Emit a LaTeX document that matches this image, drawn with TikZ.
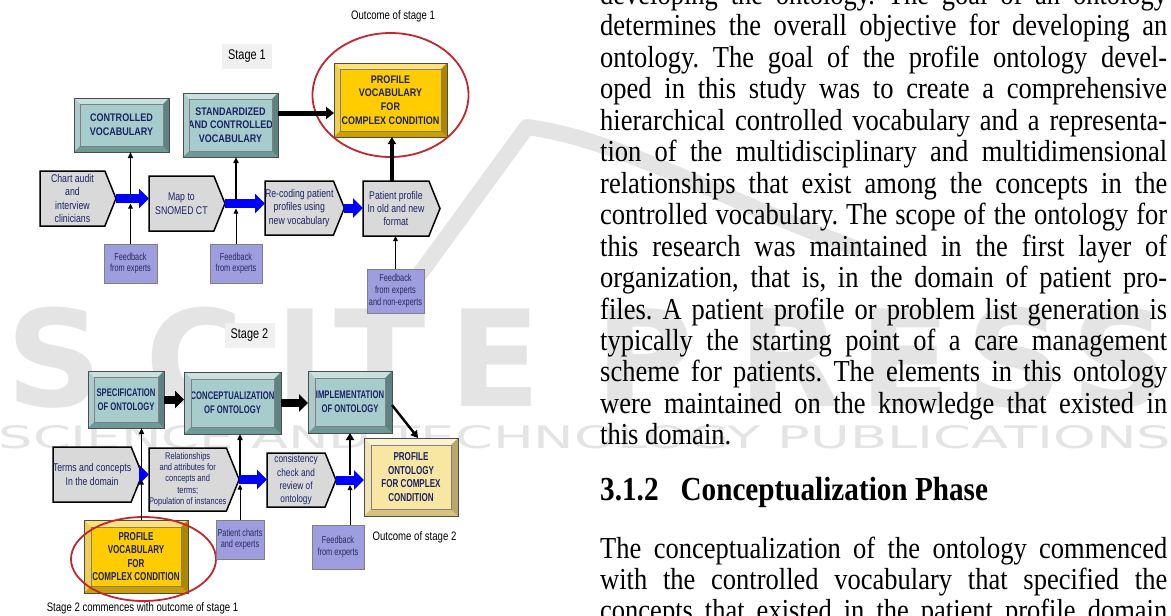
\documentclass[tikz,border=0pt]{standalone}
\usepackage{fontspec}
\setmainfont{Liberation Serif}
\newfontfamily\narrowsf[FakeStretch=0.78]{Liberation Sans}
\newfontfamily\thinsf[FakeStretch=0.72]{Liberation Sans}
\newfontfamily\labelsf[FakeStretch=0.82]{Liberation Sans}
\newfontfamily\tightsf[FakeStretch=0.70]{Liberation Sans}
\newfontfamily\markfont{DejaVu Sans}
\usetikzlibrary{shapes.symbols,shapes.geometric,arrows.meta}
\frenchspacing

\definecolor{tealface}{HTML}{A7CCCC}
\definecolor{teallight}{HTML}{C8E0E0}
\definecolor{tealdark}{HTML}{6E9999}
\definecolor{goldface}{HTML}{FFCC00}
\definecolor{goldlight}{HTML}{FFE17A}
\definecolor{golddark}{HTML}{CC9F00}
\definecolor{paleface}{HTML}{F8E7A2}
\definecolor{palelight}{HTML}{FBF2CF}
\definecolor{paledark}{HTML}{D8C37E}
\definecolor{stepgray}{HTML}{D9D9D9}
\definecolor{lavender}{HTML}{9D9DDF}
\definecolor{navytext}{HTML}{1B2366}
\definecolor{feedtext}{HTML}{2B2B5E}
\definecolor{ringred}{HTML}{C1272D}
\definecolor{flowblue}{HTML}{0000FF}
\definecolor{markgray}{HTML}{E4E4E4}

% bevelled edge round a box node: name, depth, light, dark
\newcommand{\bevel}[4]{%
  \fill[#3] (#1.north west) -- (#1.north east) -- ([shift={(-#2,#2)}]#1.north east) -- ([shift={(#2,#2)}]#1.north west) -- cycle;
  \fill[#3!70!#4] (#1.north west) -- ([shift={(#2,#2)}]#1.north west) -- ([shift={(#2,-#2)}]#1.south west) -- (#1.south west) -- cycle;
  \fill[#4] (#1.south west) -- (#1.south east) -- ([shift={(-#2,-#2)}]#1.south east) -- ([shift={(#2,-#2)}]#1.south west) -- cycle;
  \fill[#4!85!black] (#1.north east) -- (#1.south east) -- ([shift={(-#2,-#2)}]#1.south east) -- ([shift={(-#2,#2)}]#1.north east) -- cycle;
  \draw[black!50, line width=0.4pt] ([shift={(#2,#2)}]#1.north west) rectangle ([shift={(-#2,-#2)}]#1.south east);
  \draw[black!70, line width=0.8pt] (#1.north west) rectangle (#1.south east);
}

\begin{document}
\begin{tikzpicture}[x=1pt, y=-1pt,
  tealbox/.style={draw=black!70, line width=0.8pt, fill=tealface, inner sep=0pt, outer sep=0pt, text=navytext, align=center, font=\labelsf\bfseries\fontsize{11}{13.6}\selectfont},
  goldbox/.style={tealbox, fill=goldface},
  palebox/.style={tealbox, fill=paleface},
  stepbox/.style={signal, signal to=east, signal pointer angle=136, anchor=west, draw=black, line width=1.5pt, fill=stepgray, inner sep=0pt, outer sep=0pt, text=navytext, align=center, font=\narrowsf\fontsize{11.2}{13.4}\selectfont},
  feedbox/.style={draw=black!50, line width=0.6pt, fill=lavender, inner sep=0pt, outer sep=0pt, text=feedtext, align=center, font=\thinsf\fontsize{10.2}{11.7}\selectfont},
  stagetag/.style={fill=black!6, inner sep=0pt, minimum width=50, minimum height=25, font=\narrowsf\fontsize{14}{14}\selectfont},
  caption/.style={inner sep=0pt, font=\narrowsf\fontsize{12.3}{14}\selectfont},
  ring/.style={ellipse, draw=ringred, line width=1.8pt, inner sep=0pt},
  flow/.style={draw=flowblue, line width=9pt, -{Triangle[length=10pt,width=19pt,fill=flowblue]}},
  feed/.style={line width=0.9pt, -{Triangle[length=5pt,width=4.5pt]}},
  feedup/.style={line width=1.6pt, -{Triangle[length=6pt,width=5pt]}},
  riser/.style={line width=3.2pt, -{Triangle[length=7pt,width=8pt]}},
  push/.style={line width=5pt, -{Triangle[length=8pt,width=12pt]}},
  fatpush/.style={line width=8pt, -{Triangle[length=9pt,width=17pt]}},
  bodyline/.style={anchor=base west, inner sep=0pt, yscale=1.15, font=\fontsize{26.5}{31.45}\selectfont},
  markletter/.style={text=markgray, inner sep=0pt, font=\markfont\bfseries\fontsize{134}{134}\selectfont},
]
\path[use as bounding box, fill=white] (0,0) rectangle (1171,616);
\clip (0,0) rectangle (1171,616);

% watermark
\draw[markgray, line width=16pt, line join=round] (392,312) -- (527,127) .. controls (620,140) and (700,190) .. (860,250);
\foreach \ch/\cx in {S/55,C/195,I/300,T/380,E/495,P/645,R/790,E/905,S/1015,S/1120}
  \node[markletter] (wm\cx) at (\cx,358) {\ch};
\node[text=markgray, inner sep=0pt, xscale=1.75, font=\markfont\fontsize{31}{31}\selectfont] (wmsub) at (585,437) {SCIENCE AND TECHNOLOGY PUBLICATIONS};

% Stage 1
\node[stagetag] (tag1) at (247,56.5) {Stage 1};
\node[caption] (out1) at (393,16) {Outcome of stage 1};
\node[tealbox, minimum width=95, minimum height=54] (ctrl) at (121.5,125) {CONTROLLED\\VOCABULARY};
\node[tealbox, minimum width=95, minimum height=64] (std) at (230.5,125) {STANDARDIZED\\AND CONTROLLED\\VOCABULARY};
\node[goldbox, minimum width=113, minimum height=74] (pvoc) at (390.5,100) {PROFILE\\VOCABULARY\\FOR\\COMPLEX CONDITION};
\bevel{ctrl}{6}{teallight}{tealdark}
\bevel{std}{6}{teallight}{tealdark}
\bevel{pvoc}{6}{goldlight}{golddark}
\node[ring, minimum width=156, minimum height=124] (ring1) at (390.5,95) {};

\node[stepbox, minimum width=76, minimum height=55] (chart) at (40,198.5) {Chart audit\\and\\interview\\clinicians};
\node[stepbox, minimum width=76, minimum height=55] (map) at (149,203.5) {Map to\\SNOMED CT};
\node[stepbox, minimum width=77, minimum height=54] (recode) at (265,208) {Re-coding patient\\profiles using\\new vocabulary};
\node[stepbox, minimum width=77, minimum height=55] (pprof) at (363,208.5) {Patient profile\\In old and new\\format};

\node[feedbox, minimum width=53, minimum height=39] (fb1) at (130.5,263.5) {Feedback\\from experts};
\node[feedbox, minimum width=52, minimum height=39] (fb2) at (236,263.5) {Feedback\\from experts};
\node[feedbox, minimum width=57, minimum height=44] (fb3) at (395.5,291) {Feedback\\from experts\\and non-experts};

\draw[flow] (chart.east) -- (chart.east -| map.west);
\draw[flow] (map.east) -- (map.east -| recode.west);
\draw[flow] (recode.east) -- (recode.east -| pprof.west);
\draw[push] ([shift={(0,-12)}]std.east) -- ([shift={(0,-12)}]std.east -| pvoc.west);

\coordinate (j1) at (chart.east -| fb1.north);
\coordinate (j2) at (map.east -| fb2.north);
\draw[feed] (fb1.north) -- ([shift={(0,5)}]j1);
\draw[feedup] ([shift={(0,-5)}]j1) -- (j1 |- ctrl.south);
\draw[feed] (fb2.north) -- ([shift={(0,5)}]j2);
\draw[feedup] ([shift={(0,-5)}]j2) -- (j2 |- std.south);
\draw[riser] ([shift={(-4,0)}]pprof.north) -- ([shift={(-4,0)}]pprof.north |- pvoc.south);
\draw[feed] (fb3.north) -- (fb3.north |- pprof.south);

% Stage 2
\node[stagetag] (tag2) at (249.5,335.5) {Stage 2};
\node[tealbox, font=\tightsf\bfseries\fontsize{11}{13.6}\selectfont, minimum width=76, minimum height=57] (spec) at (126,399.5) {SPECIFICATION\\OF ONTOLOGY};
\node[tealbox, font=\tightsf\bfseries\fontsize{11}{13.6}\selectfont, minimum width=97, minimum height=62] (conc) at (232.5,403) {CONCEPTUALIZATION\\OF ONTOLOGY};
\node[tealbox, font=\tightsf\bfseries\fontsize{11}{13.6}\selectfont, minimum width=84, minimum height=62] (impl) at (350,402) {IMPLEMENTATION\\OF ONTOLOGY};
\node[palebox, font=\tightsf\bfseries\fontsize{11.5}{13.4}\selectfont, minimum width=94, minimum height=78] (ponto) at (411,477) {PROFILE\\ONTOLOGY\\FOR COMPLEX\\CONDITION};
\bevel{spec}{6}{teallight}{tealdark}
\bevel{conc}{7}{teallight}{tealdark}
\bevel{impl}{7}{teallight}{tealdark}
\bevel{ponto}{7}{palelight}{paledark}

\node[stepbox, minimum width=77, minimum height=55] (terms) at (53,474.5) {Terms and concepts\\In the domain};
\node[stepbox, font=\narrowsf\fontsize{9.6}{11.4}\selectfont, minimum width=88, minimum height=63] (rel) at (149,479.5) {Relationships\\and attributes for\\concepts and\\terms;\\Population of instances};
\node[stepbox, font=\narrowsf\fontsize{10.6}{13.2}\selectfont, minimum width=69, minimum height=54] (cons) at (267,480) {consistency\\check and\\review of\\ontology};

\node[goldbox, font=\tightsf\bfseries\fontsize{11.5}{13.3}\selectfont, minimum width=104, minimum height=73] (pvoc2) at (136,556.5) {PROFILE\\VOCABULARY\\FOR\\COMPLEX CONDITION};
\bevel{pvoc2}{7}{goldlight}{golddark}
\node[ring, minimum width=145, minimum height=84] (ring2) at (143.5,559) {};
\node[feedbox, minimum width=48, minimum height=39] (pc) at (240,539.5) {Patient charts\\and experts};
\node[feedbox, minimum width=52, minimum height=44] (fb4) at (338,547) {Feedback\\from experts};

\draw[fatpush] (spec.east) -- (spec.east -| conc.west);
\draw[fatpush] (conc.east) -- (conc.east -| impl.west);
\draw[riser, line width=2.4pt] ([shift={(0,3)}]impl.east) -- ([shift={(7,0)}]ponto.north);
\draw[flow] (terms.east) -- (terms.east -| rel.west);
\draw[flow] (rel.east) -- (rel.east -| cons.west);
\draw[flow] (cons.east) -- (cons.east -| ponto.west);

\coordinate (j3) at (141.5,474.5);
\coordinate (j4) at (rel.east -| pc.north);
\coordinate (j5) at (cons.east -| impl.south);
\draw[feed] (j3 |- pvoc2.north) -- ([shift={(0,5)}]j3);
\draw[feedup] ([shift={(0,-5)}]j3) -- (j3 |- spec.south);
\draw[feed] (pc.north) -- ([shift={(0,5)}]j4);
\draw[feedup] ([shift={(0,-5)}]j4) -- (j4 |- conc.south);
\draw[feed] (j5 |- fb4.north) -- ([shift={(0,5)}]j5);
\draw[riser, line width=2.6pt] ([shift={(0,-5)}]j5) -- (j5 |- impl.south);

\node[caption] (out2) at (414.5,537) {Outcome of stage 2};
\node[caption] (start2) at (142.5,608) {Stage 2 commences with outcome of stage 1};

% text column
\foreach \txt [count=\i] in {
  {developing the ontology. The goal of an ontology},
  {determines the overall objective for developing an},
  {ontology. The goal of the profile ontology devel-},
  {oped in this study was to create a comprehensive},
  {hierarchical controlled vocabulary and a representa-},
  {tion of the multidisciplinary and multidimensional},
  {relationships that exist among the concepts in the},
  {controlled vocabulary. The scope of the ontology for},
  {this research was maintained in the first layer of},
  {organization, that is, in the domain of patient pro-},
  {files. A patient profile or problem list generation is},
  {typically the starting point of a care management},
  {scheme for patients. The elements in this ontology},
  {were maintained on the knowledge that existed in}}
  \node[bodyline] (body\i) at (600,{4.5+31.45*(\i-1)}) {\hbox to 567pt{\txt}};
\node[bodyline] (body15) at (600,444.8) {this domain.};
\node[bodyline, font=\bfseries\fontsize{29.2}{34}\selectfont] (head) at (600,500) {3.1.2\hspace{22pt}Conceptualization Phase};
\foreach \txt [count=\i] in {
  {The conceptualization of the ontology commenced},
  {with the controlled vocabulary that specified the},
  {concepts that existed in the patient profile domain}}
  \node[bodyline] (para\i) at (600,{558+31.45*(\i-1)}) {\hbox to 567pt{\txt}};
\end{tikzpicture}
\end{document}
